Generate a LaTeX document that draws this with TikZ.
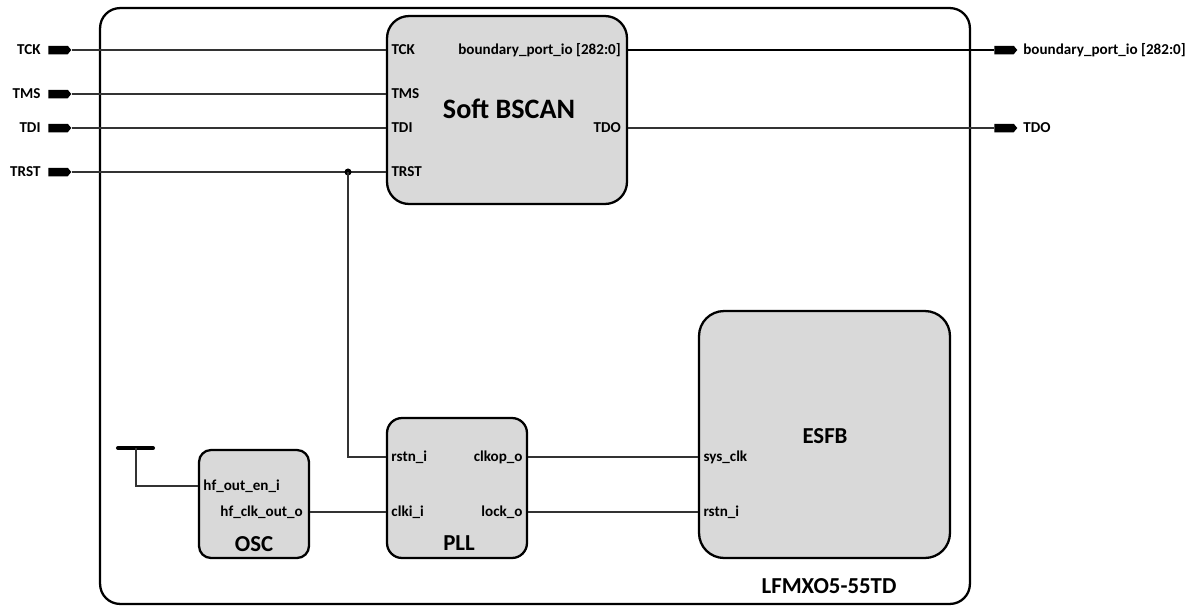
\documentclass[tikz,border=0pt]{standalone}
\usepackage{fontspec}
\setmainfont{Carlito}
\usetikzlibrary{shapes.symbols,positioning}
\definecolor{blockgray}{RGB}{217,217,217}
\tikzset{
  block/.style={draw, line width=1.3pt, fill=blockgray, inner sep=0pt},
  pinarrow/.style={signal, signal to=east, signal pointer angle=100, fill=black,
    inner sep=0pt, minimum width=0.46cm, minimum height=0.17cm},
  lbl/.style={font=\fontsize{8.6}{10}\selectfont\bfseries, inner sep=1pt},
  title/.style={font=\fontsize{13}{15}\selectfont\bfseries, inner sep=0pt},
  wire/.style={black!80, line width=0.6pt}
}

\begin{document}
\begin{tikzpicture}[x=0.02cm,y=-0.02cm]
\useasboundingbox (0,0) rectangle (1200,606);

% chip outline
\node[draw, line width=1.3pt, rounded corners=0.4cm, minimum width=17.4cm,
  minimum height=11.92cm, inner sep=0pt] (chip) at (535,306) {};
\node[title] at (829,586) {LFMXO5-55TD};

% blocks
\node[block, rounded corners=0.44cm, minimum width=4.8cm, minimum height=3.76cm] (bscan) at (507,110) {};
\node[block, rounded corners=0.3cm, minimum width=2.8cm, minimum height=2.8cm] (pll) at (457,488) {};
\node[block, rounded corners=0.5cm, minimum width=5.02cm, minimum height=4.94cm] (esfb) at (824.5,434.5) {};
\node[block, rounded corners=0.24cm, minimum width=2.2cm, minimum height=2.16cm] (osc) at (254,504) {};

\node[font=\fontsize{16}{18}\selectfont\bfseries, inner sep=0pt] at (509,109) {Soft BSCAN};
\node[title] at (825,436) {ESFB};
\node[title] at (459,543) {PLL};
\node[title] at (254,544) {OSC};

% port coordinates
\coordinate (bscan-tck) at (bscan.west |- 0,50);
\coordinate (bscan-tms) at (bscan.west |- 0,94);
\coordinate (bscan-tdi) at (bscan.west |- 0,128);
\coordinate (bscan-trst) at (bscan.west |- 0,172);
\coordinate (bscan-bp) at (bscan.east |- 0,50);
\coordinate (bscan-tdo) at (bscan.east |- 0,128);
\coordinate (pll-rstn) at (pll.west |- 0,457);
\coordinate (pll-clki) at (pll.west |- 0,512);
\coordinate (pll-clkop) at (pll.east |- 0,457);
\coordinate (pll-lock) at (pll.east |- 0,512);
\coordinate (esfb-clk) at (esfb.west |- 0,457);
\coordinate (esfb-rstn) at (esfb.west |- 0,512);
\coordinate (osc-en) at (osc.west |- 0,486);
\coordinate (osc-clk) at (osc.east |- 0,512);

% port labels
\node[lbl, anchor=west, xshift=2pt] at (bscan-tck) {TCK};
\node[lbl, anchor=west, xshift=2pt] at (bscan-tms) {TMS};
\node[lbl, anchor=west, xshift=2pt] at (bscan-tdi) {TDI};
\node[lbl, anchor=west, xshift=2pt] at (bscan-trst) {TRST};
\node[lbl, anchor=east, xshift=-3pt] at (bscan-bp) {boundary\_port\_io [282:0]};
\node[lbl, anchor=east, xshift=-3pt] at (bscan-tdo) {TDO};
\node[lbl, anchor=west, xshift=2pt] at (pll-rstn) {rstn\_i};
\node[lbl, anchor=west, xshift=2pt] at (pll-clki) {clki\_i};
\node[lbl, anchor=east, xshift=-2pt] at (pll-clkop) {clkop\_o};
\node[lbl, anchor=east, xshift=-2pt] at (pll-lock) {lock\_o};
\node[lbl, anchor=west, xshift=2pt] at (esfb-clk) {sys\_clk};
\node[lbl, anchor=west, xshift=2pt] at (esfb-rstn) {rstn\_i};
\node[lbl, anchor=west, xshift=2pt] at (osc-en) {hf\_out\_en\_i};
\node[lbl, anchor=east, xshift=-3pt] at (osc-clk) {hf\_clk\_out\_o};

% top level pins
\node[pinarrow] (tckpin) at (58,50) {};
\node[pinarrow] (tmspin) at (58,94) {};
\node[pinarrow] (tdipin) at (58,128) {};
\node[pinarrow] (trstpin) at (58,172) {};
\node[pinarrow] (bppin) at (1004,50) {};
\node[pinarrow] (tdopin) at (1004,128) {};
\node[lbl, left=3pt of tckpin] {TCK};
\node[lbl, left=3pt of tmspin] {TMS};
\node[lbl, left=3pt of tdipin] {TDI};
\node[lbl, left=3pt of trstpin] {TRST};
\node[lbl, right=2pt of bppin] {boundary\_port\_io [282:0]};
\node[lbl, right=2pt of tdopin] {TDO};

% wires
\draw[wire] (tckpin.east) -- (bscan-tck);
\draw[wire] (tmspin.east) -- (bscan-tms);
\draw[wire] (tdipin.east) -- (bscan-tdi);
\draw[wire] (trstpin.east) -- (bscan-trst);
\draw[line width=1.4pt] (bscan-bp) -- (bppin.west);
\draw[wire] (bscan-tdo) -- (tdopin.west);

\coordinate (trstj) at (348,172);
\fill (trstj) circle (2pt);
\draw[wire] (trstj) |- (pll-rstn);
\draw[wire] (osc-clk) -- (pll-clki);
\draw[wire] (pll-clkop) -- (esfb-clk);
\draw[wire] (pll-lock) -- (esfb-rstn);

% tie-off for enable
\coordinate (tie) at (136,448);
\draw[line width=2.3pt, line cap=round] (118,448) -- (153,448);
\draw[wire] (tie) |- (osc-en);

\end{tikzpicture}
\end{document}
